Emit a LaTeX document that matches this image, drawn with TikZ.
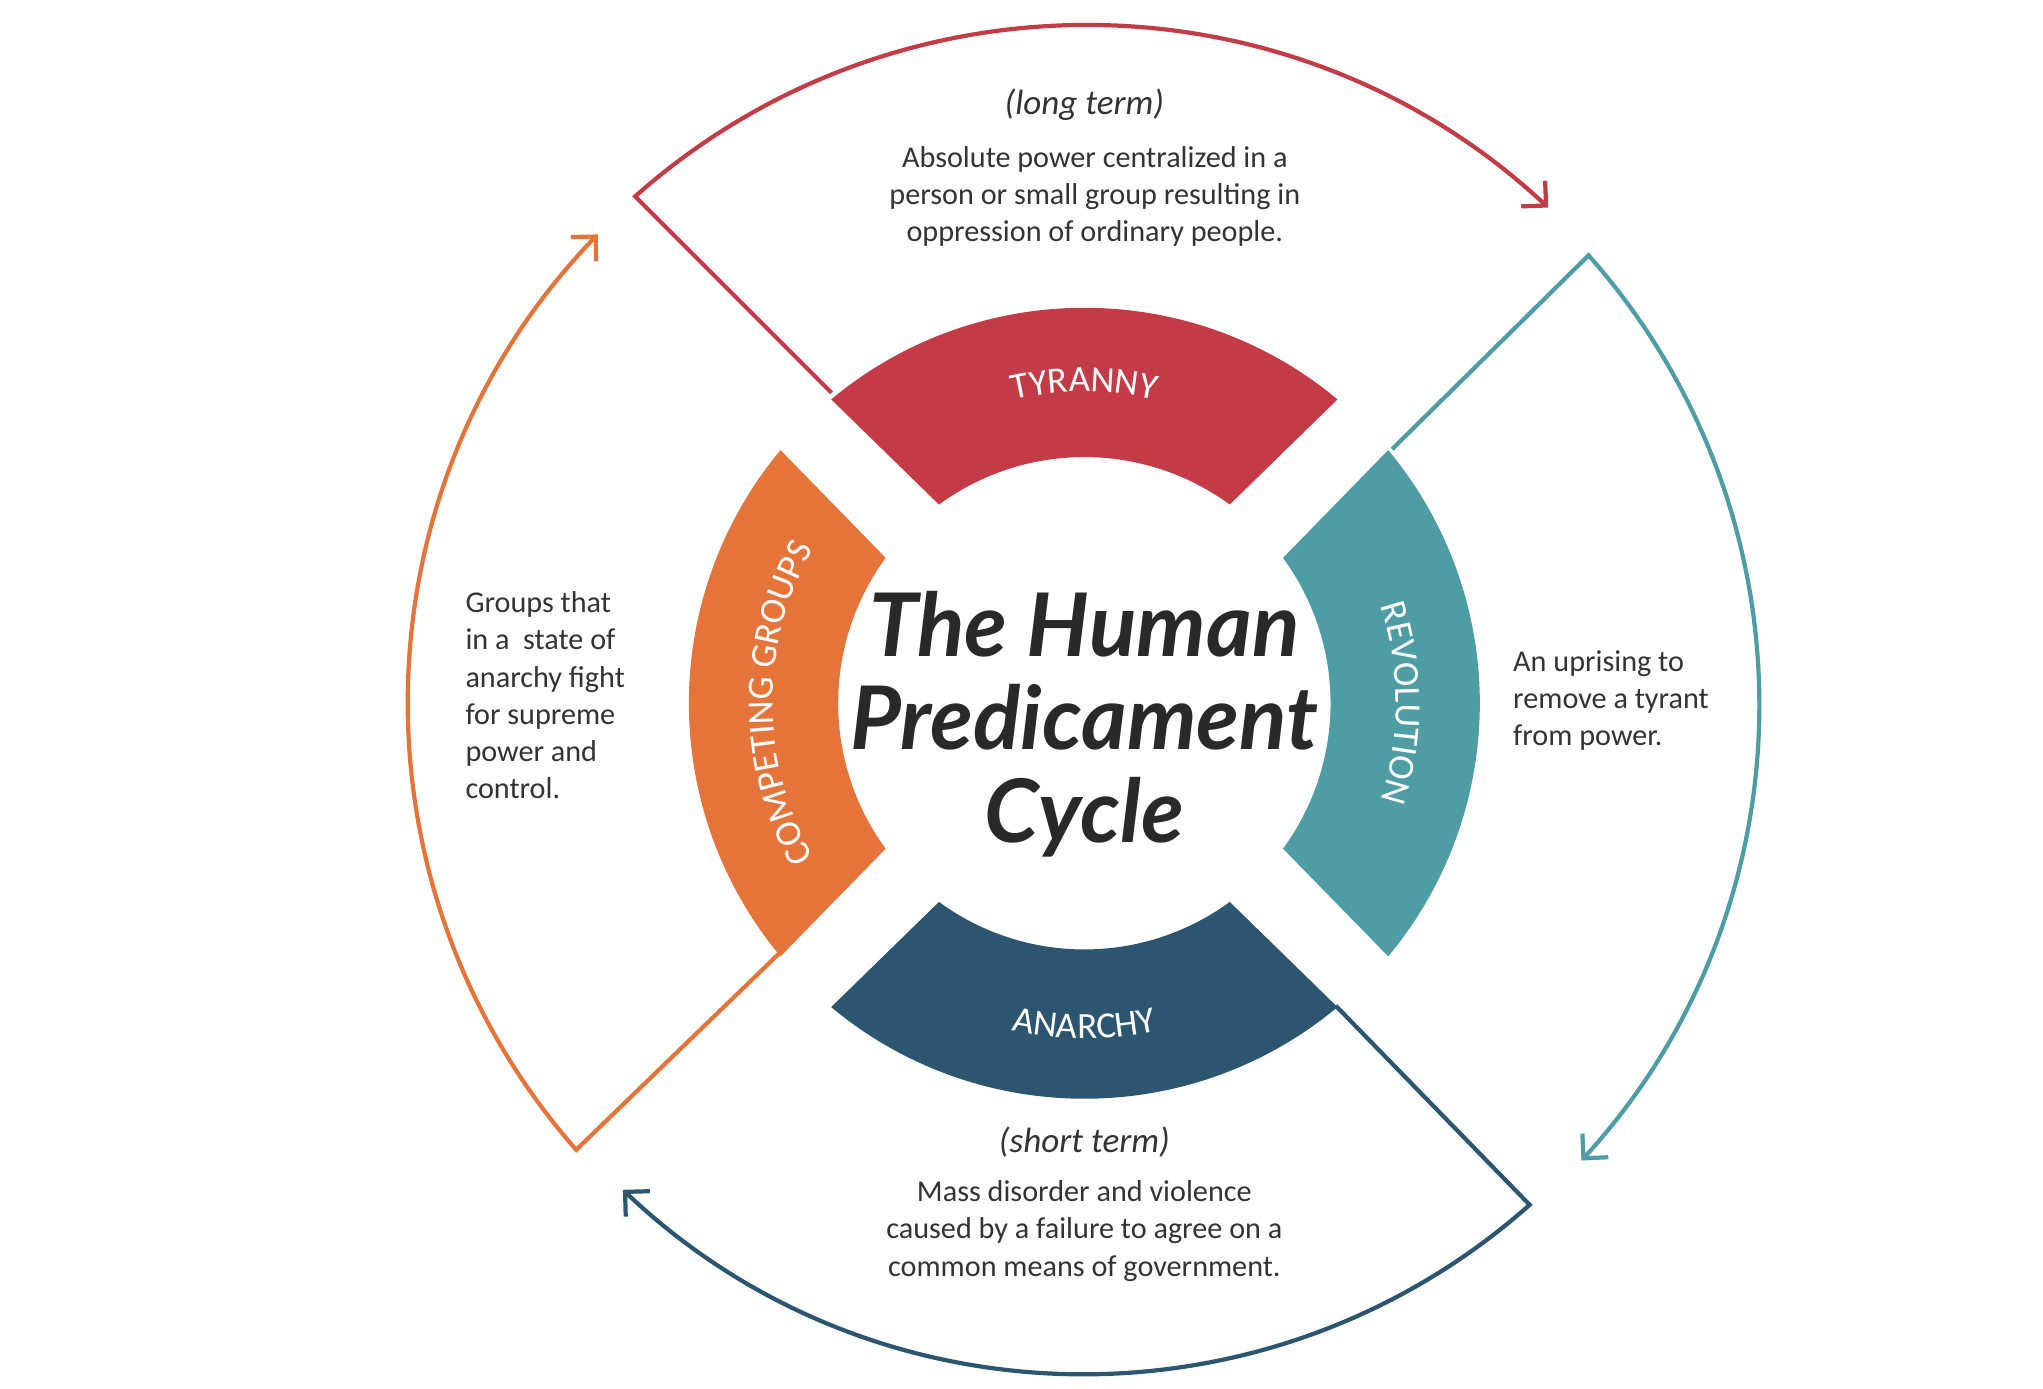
\documentclass[tikz,border=0pt]{standalone}
\usepackage{fontspec}
\setmainfont{Carlito}
\newfontfamily\titlefont{Lato}
\usetikzlibrary{decorations.text,arrows.meta}

\definecolor{tyrred}{HTML}{C43B48}
\definecolor{revteal}{HTML}{4E9CA4}
\definecolor{anablue}{HTML}{2C5670}
\definecolor{comporange}{HTML}{E5743A}
\definecolor{txtgray}{HTML}{333333}

\tikzset{
  cycle line/.style={line width=1.2pt},
  cycle arrow/.style={cycle line,-{Straight Barb[length=5pt,width=10pt]}},
  body text/.style={font=\fontsize{8.6}{10.6}\selectfont,text=txtgray,align=center},
  ring label/.style={decorate,decoration={text along path,text align=center,
      text={|\fontsize{10.5}{10.5}\selectfont\color{white}|#1}}},
}

\begin{document}
\begin{tikzpicture}[x=0.0131cm,y=0.0131cm]
\useasboundingbox (-828,537) rectangle (732,-523);

% ring segments
\foreach \dir/\col in {90/tyrred,0/revteal,-90/anablue,180/comporange}{
  \fill[\col] (\dir-36.2:188) arc[start angle=\dir-36.2,end angle=\dir+36.2,radius=188]
    -- (\dir+39.8:302) arc[start angle=\dir+39.8,end angle=\dir-39.8,radius=302] -- cycle;
}
\path[ring label=TYRANNY] (112:238) arc[start angle=112,end angle=68,radius=238];
\path[ring label=REVOLUTION] (32:238) arc[start angle=32,end angle=-32,radius=238];
\path[ring label=ANARCHY] (243:256) arc[start angle=243,end angle=297,radius=256];
\path[ring label=COMPETING GROUPS] (218:238) arc[start angle=218,end angle=142,radius=238];

% title
\node[font=\titlefont\bfseries\itshape\fontsize{25}{26.5}\selectfont,
  text=txtgray!80!black,align=center] (title) at (0,-16) {The Human\\Predicament\\Cycle};

% corner points
\coordinate (tyrA) at (-193,237);  \coordinate (tyrB) at (-343,387);
\coordinate (revA) at (235,194);   \coordinate (revB) at (385,342);
\coordinate (anaA) at (192,-231);  \coordinate (anaB) at (340,-383);
\coordinate (comA) at (-233,-191); \coordinate (comB) at (-388,-341);

% outer cycle
\draw[cycle arrow,tyrred] (tyrA) -- (tyrB) arc[start angle=131.6,end angle=47,radius=518];
\draw[cycle arrow,revteal] (revA) -- (revB) arc[start angle=41.6,end angle=-42.5,radius=516];
\draw[cycle arrow,anablue] (anaA) -- (anaB) arc[start angle=-48.4,end angle=-133.5,radius=512];
\draw[cycle arrow,comporange] (comA) -- (comB) arc[start angle=221.3,end angle=136,radius=516];

% texts
\node[body text,font=\itshape\fontsize{10}{12}\selectfont] (longterm) at (0,457) {(long term)};
\node[body text] (tyrtext) at (8,387) {Absolute power centralized in a\\person or small group resulting in\\oppression of ordinary people.};
\node[body text,align=left,anchor=west] (revtext) at (318,2) {An uprising to\\remove a tyrant\\from power.};
\node[body text,align=left,anchor=west] (comtext) at (-482,6) {Groups that\\in a\ \ state of\\anarchy fight\\for supreme\\power and\\control.};
\node[body text,font=\itshape\fontsize{10}{12}\selectfont] (shortterm) at (0,-335) {(short term)};
\node[body text] (anatext) at (0,-403) {Mass disorder and violence\\caused by a failure to agree on a\\common means of government.};
\end{tikzpicture}
\end{document}
